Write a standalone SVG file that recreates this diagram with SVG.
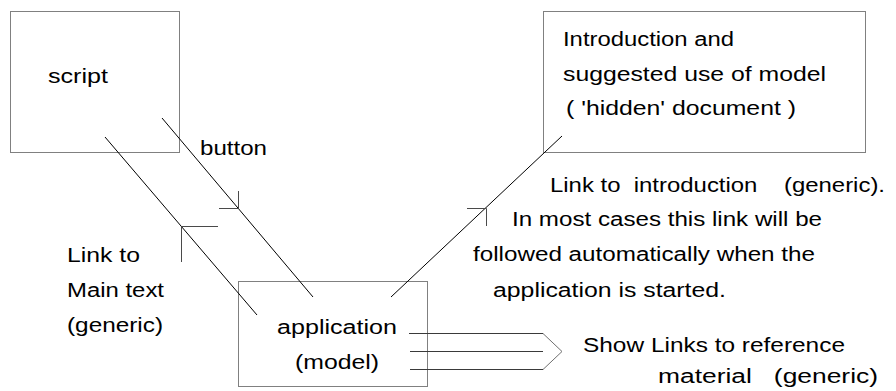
<svg xmlns="http://www.w3.org/2000/svg" width="896" height="391" viewBox="0 0 896 391">
  <style>
    .box { fill: #ffffff; stroke: #808080; stroke-width: 1; }
    .wire { fill: none; stroke: #000000; stroke-width: 1; }
    .tick { fill: none; stroke: #4a4a4a; stroke-width: 1; }
    .bus { fill: none; stroke: #3a3a3a; stroke-width: 1; }
    .chev { fill: none; stroke: #707070; stroke-width: 1; }
    text { font-family: "Liberation Sans", Arial, sans-serif; font-size: 20px; fill: #000000; }
    .pre { white-space: pre; }
  </style>

  <rect width="896" height="391" fill="#ffffff"/>

  <!-- script node -->
  <g id="script">
    <rect class="box" x="10.5" y="11.5" width="169" height="141"/>
    <text x="48" y="83" textLength="60" lengthAdjust="spacingAndGlyphs">script</text>
  </g>

  <!-- introduction node -->
  <g id="introduction">
    <rect class="box" x="543.5" y="11.5" width="322" height="141"/>
    <text x="563" y="46" textLength="171" lengthAdjust="spacingAndGlyphs">Introduction and</text>
    <text x="563" y="81" textLength="263" lengthAdjust="spacingAndGlyphs">suggested use of model</text>
    <text class="pre" x="566" y="115" textLength="230" lengthAdjust="spacingAndGlyphs">( 'hidden' document )</text>
  </g>

  <!-- application node -->
  <g id="application">
    <rect class="box" x="238.5" y="281.5" width="189" height="105"/>
    <text x="277" y="334" textLength="120" lengthAdjust="spacingAndGlyphs">application</text>
    <text x="295" y="369" textLength="84" lengthAdjust="spacingAndGlyphs">(model)</text>
  </g>

  <!-- connectors -->
  <g id="connectors">
    <!-- link to main text: application -> script -->
    <line class="wire" x1="257" y1="315" x2="105" y2="137"/>
    <path class="tick" d="M218,226.5 H181.5 V262"/>
    <!-- button: script -> application -->
    <line class="wire" x1="162" y1="118" x2="313" y2="297"/>
    <path class="tick" d="M219,208.5 H238.5 V191"/>
    <!-- link to introduction: application -> introduction -->
    <line class="wire" x1="391" y1="297" x2="562" y2="136"/>
    <path class="tick" d="M467,208.5 H486.5 V226"/>
    <!-- reference material bundle -->
    <path class="bus" d="M409,333.5 H543 M410,351.5 H543 M410,369.5 H543"/>
    <path class="chev" d="M543,333.5 L562,351.5 L543,369.5"/>
  </g>

  <!-- connector labels -->
  <g id="label-button">
    <text x="200" y="155" textLength="67" lengthAdjust="spacingAndGlyphs">button</text>
  </g>
  <g id="label-main-text">
    <text x="67" y="262" textLength="73" lengthAdjust="spacingAndGlyphs">Link to</text>
    <text x="67" y="297" textLength="97" lengthAdjust="spacingAndGlyphs">Main text</text>
    <text x="67" y="332" textLength="96" lengthAdjust="spacingAndGlyphs">(generic)</text>
  </g>
  <g id="label-introduction">
    <text class="pre" x="550" y="192" textLength="335" lengthAdjust="spacingAndGlyphs">Link to  introduction    (generic).</text>
    <text x="512" y="226" textLength="310" lengthAdjust="spacingAndGlyphs">In most cases this link will be</text>
    <text x="473" y="261" textLength="342" lengthAdjust="spacingAndGlyphs">followed automatically when the</text>
    <text x="493" y="297" textLength="233" lengthAdjust="spacingAndGlyphs">application is started.</text>
  </g>
  <g id="label-reference">
    <text x="583" y="352" textLength="262" lengthAdjust="spacingAndGlyphs">Show Links to reference</text>
    <text class="pre" x="658" y="383" textLength="220" lengthAdjust="spacingAndGlyphs">material   (generic)</text>
  </g>
</svg>
